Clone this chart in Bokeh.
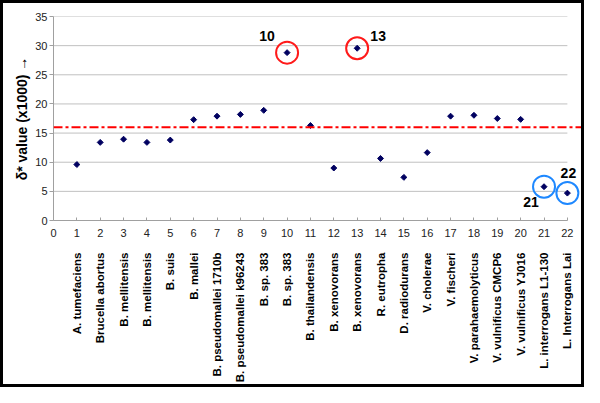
import math
from bokeh.plotting import figure
from bokeh.models import Span, FixedTicker, LinearAxis, Range1d
from bokeh.embed import file_html
from bokeh.resources import INLINE
from bokeh.core.properties import value

# ---------------- data ----------------
categories = [
    "A. tumefaciens", "Brucella abortus", "B. mellitensis", "B. mellitensis",
    "B. suis", "B. mallei", "B. pseudomallei 1710b", "B. pseudomallei k96243",
    "B. sp. 383", "B. sp. 383", "B. thailandensis", "B. xenovorans",
    "B. xenovorans", "R. eutropha", "D. radiodurans", "V. cholerae",
    "V. fischeri", "V. parahaemolyticus", "V. vulnificus CMCP6",
    "V. vulnificus YJ016", "L. interrogans L1-130", "L. Interrogans Lai",
]
positions = list(range(1, len(categories) + 1))
delta_values = [9.6, 13.4, 13.95, 13.4, 13.8, 17.3, 17.9, 18.2, 18.9, 28.8,
                16.3, 9.0, 29.55, 10.65, 7.4, 11.65, 17.9, 18.05, 17.5, 17.35,
                5.8, 4.7]
threshold = 16
y_ticks = [0, 5, 10, 15, 20, 25, 30, 35]
x_ticks = list(range(0, len(categories) + 1))
red_circled = [10, 13]
blue_circled = [21, 22]
label_points = [10, 13, 21, 22]
label_dx = [-20, 21, -13, 1]
label_dy = [17, 12, -15, 20]

FONT = "Liberation Sans"

p = figure(width=584, height=387, output_backend="svg", toolbar_location=None,
           x_range=Range1d(0, 22.69), y_range=Range1d(0, 35),
           min_border_left=50, min_border_right=4, min_border_top=13,
           min_border_bottom=170)
p.styles = {"border": "3px solid black", "box-sizing": "border-box"}
p.outline_line_color = None
p.xgrid.visible = False
p.ygrid.visible = False
p.background_fill_color = "white"
p.border_fill_color = "white"

# manual horizontal gridlines ending at last category
n = len(categories)
p.segment(x0=[0] * (len(y_ticks) - 1), x1=[n] * (len(y_ticks) - 1),
          y0=y_ticks[1:], y1=y_ticks[1:], line_color="#c0c0c0", line_width=1)

# threshold line
p.add_layout(Span(location=threshold, dimension="width", line_color="#ff0000",
                  line_width=2, line_dash="9 3 3 3"))

# points
p.scatter(positions, delta_values, marker="square", angle=math.pi / 4, size=4.2,
          fill_color="#000060", line_color="#000060")

# circles
p.scatter(red_circled, [delta_values[i - 1] for i in red_circled], marker="circle",
          size=22, fill_color=None, line_color="#ff1a1a", line_width=2)
p.scatter(blue_circled, [delta_values[i - 1] for i in blue_circled], marker="circle",
          size=22, fill_color=None, line_color="#1e88ff", line_width=2)

# labels
p.text([i for i in label_points], [delta_values[i - 1] for i in label_points],
       text=[str(i) for i in label_points], x_offset=label_dx,
       y_offset=[-d for d in label_dy], text_align="center", text_baseline="middle",
       text_font=value(FONT), text_font_style="bold", text_font_size="14px",
       text_color="black")

# axes
xa = p.xaxis[0]
xa.ticker = FixedTicker(ticks=x_ticks)
xa.bounds = (0, n)
xa.axis_line_color = "#a0a0a0"
xa.major_tick_line_color = "#a0a0a0"
xa.major_tick_in = 3
xa.major_tick_out = 0
xa.minor_tick_line_color = None
xa.major_label_text_font = FONT
xa.major_label_text_font_size = "11px"
xa.major_label_text_color = "#222222"
xa.major_label_standoff = 8

cat_axis = LinearAxis(ticker=FixedTicker(ticks=positions),
                      major_label_overrides={pos: name for pos, name in zip(positions, categories)},
                      major_label_orientation=math.pi / 2,
                      axis_line_color=None, major_tick_line_color=None,
                      minor_tick_line_color=None,
                      major_label_text_font=FONT, major_label_text_font_size="11.5px",
                      major_label_text_font_style="bold", major_label_text_color="black",
                      major_label_standoff=7)
p.add_layout(cat_axis, "below")

ya = p.yaxis[0]
ya.ticker = FixedTicker(ticks=y_ticks)
ya.bounds = (0, 35)
ya.axis_line_color = "#a0a0a0"
ya.major_tick_line_color = "#a0a0a0"
ya.major_tick_in = 0
ya.major_tick_out = 4
ya.minor_tick_line_color = None
ya.major_label_text_font = FONT
ya.major_label_text_font_size = "11px"
ya.major_label_text_color = "#222222"
ya.major_label_standoff = 2
ya.axis_label = "δ* value (x1000) →"
ya.axis_label_text_font = FONT
ya.axis_label_text_font_style = "bold"
ya.axis_label_text_font_size = "14px"
ya.axis_label_text_color = "black"
ya.axis_label_standoff = 2

open("out.html", "w").write(file_html(p, INLINE))
